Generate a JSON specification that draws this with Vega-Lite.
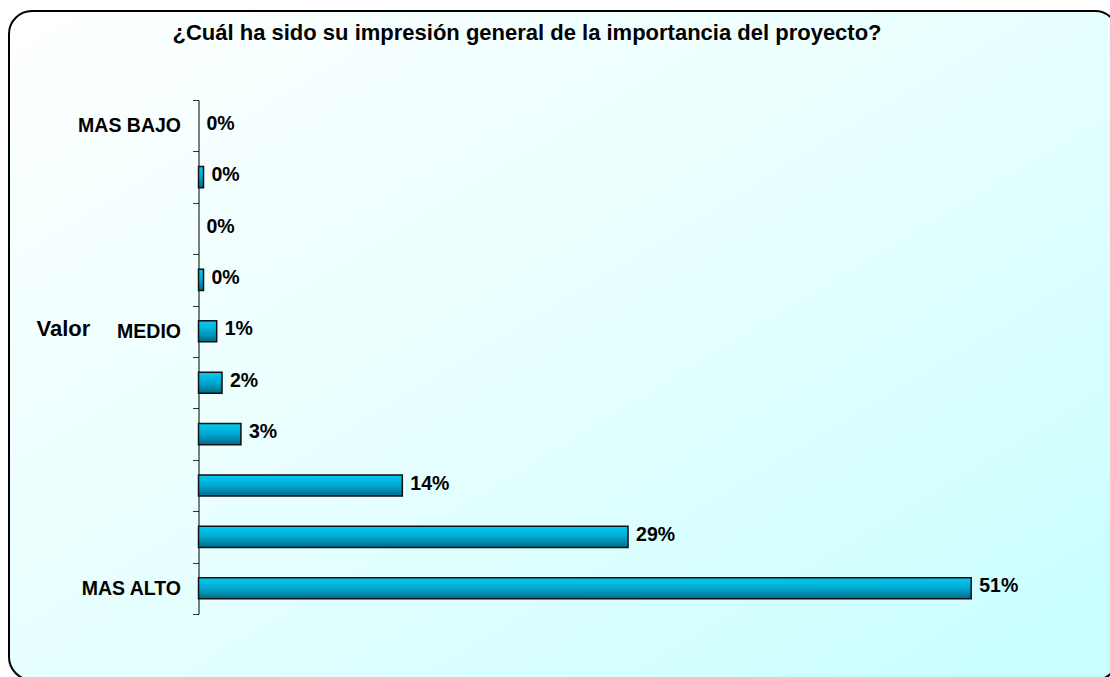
{
  "$schema": "https://vega.github.io/schema/vega-lite/v6.json",
  "autosize": {"type": "none"},
  "padding": {"left": 9, "top": 11, "right": -8, "bottom": -3},
  "width": 1109,
  "height": 669,
  "background": "white",
  "config": {
    "font": "Liberation Sans",
    "view": {
      "fill": {"gradient": "linear", "x1": 0, "y1": 0, "x2": 1, "y2": 1,
        "stops": [{"offset": 0, "color": "#FFFFFF"}, {"offset": 0.45, "color": "#EAFFFF"}, {"offset": 1, "color": "#C6FEFE"}]},
      "stroke": "#000000",
      "strokeWidth": 2,
      "cornerRadius": 23
    }
  },
  "title": {
    "text": "¿Cuál ha sido su impresión general de la importancia del proyecto?",
    "font": "Liberation Sans",
    "fontSize": 22,
    "fontWeight": "bold",
    "color": "#000000",
    "anchor": "start",
    "baseline": "alphabetic",
    "dx": 163.5,
    "dy": 31,
    "offset": -30
  },
  "data": {
    "values": [
      {"nivel": 1, "valor": 0, "etiqueta": "0%"},
      {"nivel": 2, "valor": 0.33, "etiqueta": "0%"},
      {"nivel": 3, "valor": 0, "etiqueta": "0%"},
      {"nivel": 4, "valor": 0.33, "etiqueta": "0%"},
      {"nivel": 5, "valor": 1.2, "etiqueta": "1%"},
      {"nivel": 6, "valor": 1.55, "etiqueta": "2%"},
      {"nivel": 7, "valor": 2.8, "etiqueta": "3%"},
      {"nivel": 8, "valor": 13.45, "etiqueta": "14%"},
      {"nivel": 9, "valor": 28.35, "etiqueta": "29%"},
      {"nivel": 10, "valor": 51, "etiqueta": "51%"}
    ]
  },
  "encoding": {
    "y": {
      "field": "nivel",
      "type": "ordinal",
      "sort": "ascending",
      "scale": {"range": [89, 603], "paddingInner": 0, "paddingOuter": 0},
      "axis": {
        "title": "Valor",
        "titleAngle": 0,
        "titleAlign": "left",
        "titleBaseline": "alphabetic",
        "titleX": -162.5,
        "titleY": 324,
        "titleFont": "Liberation Sans",
        "titleFontSize": 22,
        "titleFontWeight": "bold",
        "titleColor": "#000000",
        "offset": -189.5,
        "labelExpr": "datum.value == 1 ? 'MAS BAJO' : datum.value == 5 ? 'MEDIO' : datum.value == 10 ? 'MAS ALTO' : ''",
        "labelFont": "Liberation Sans",
        "labelFontSize": 19.5,
        "labelFontWeight": "bold",
        "labelColor": "#000000",
        "labelPadding": 12,
        "tickBand": "extent",
        "tickSize": 6,
        "tickColor": "#333333",
        "tickWidth": 1,
        "domainColor": "#000000",
        "domainWidth": 1,
        "grid": false
      }
    },
    "x": {
      "field": "valor",
      "type": "quantitative",
      "scale": {"domain": [-12.51, 60.69], "nice": false, "zero": false},
      "axis": null
    }
  },
  "layer": [
    {
      "transform": [{"filter": "datum.valor > 0"}],
      "mark": {
        "type": "bar",
        "height": {"band": 0.41},
        "fill": {"gradient": "linear", "x1": 0, "y1": 0, "x2": 0, "y2": 1,
          "stops": [{"offset": 0, "color": "#00CCF5"}, {"offset": 0.5, "color": "#00A8D0"}, {"offset": 1, "color": "#006B88"}]},
        "stroke": "#111111",
        "strokeWidth": 1.5
      },
      "encoding": {
        "x2": {"datum": 0}
      }
    },
    {
      "mark": {
        "type": "text",
        "align": "left",
        "baseline": "middle",
        "dx": 8,
        "dy": -2,
        "font": "Liberation Sans",
        "fontSize": 19.5,
        "fontWeight": "bold",
        "color": "#000000"
      },
      "encoding": {
        "text": {"field": "etiqueta"}
      }
    }
  ]
}
